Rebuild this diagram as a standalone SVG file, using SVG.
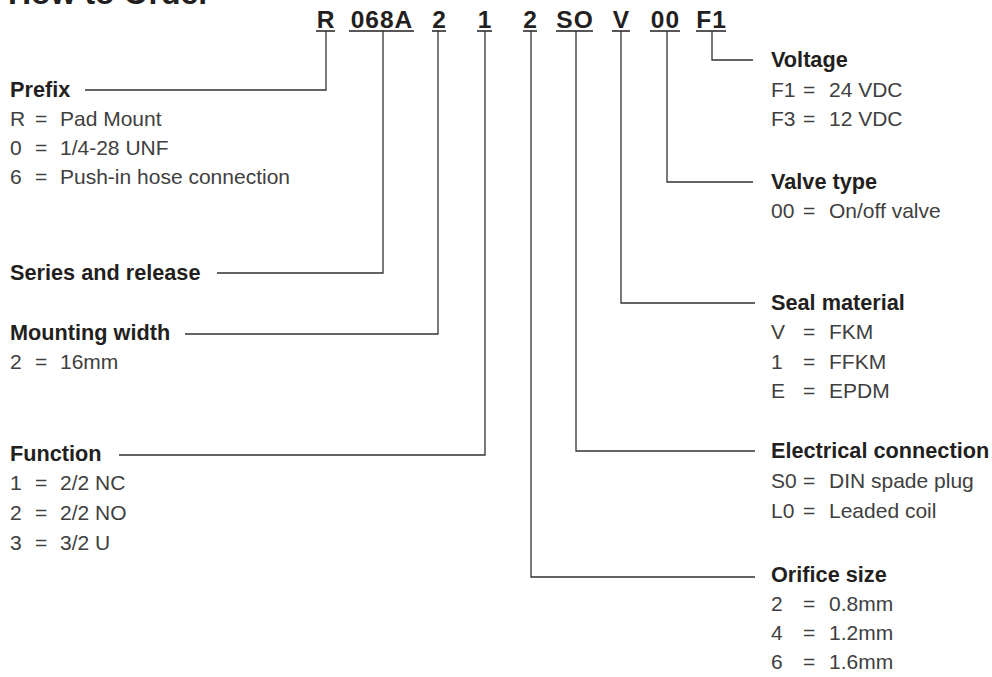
<svg xmlns="http://www.w3.org/2000/svg" width="992" height="677" viewBox="0 0 992 677">
<style>
.t{font-family:"Liberation Sans",Arial,sans-serif;font-weight:bold;font-size:32px;fill:#231f20}
.c{font-family:"Liberation Sans",Arial,sans-serif;font-weight:bold;font-size:24.5px;fill:#231f20;letter-spacing:1px}
.h{font-family:"Liberation Sans",Arial,sans-serif;font-weight:bold;font-size:21.7px;fill:#231f20}
.r{font-family:"Liberation Sans",Arial,sans-serif;font-size:21px;fill:#404040}
.u{stroke:#231f20;stroke-width:1.6;fill:none}
.k{stroke:#333;stroke-width:1.3;fill:none}
</style>
<rect width="992" height="677" fill="#fff"/>
<g id="title"><text class="t" x="8" y="4">How to Order</text></g>
<g id="code">
<text class="c" x="326" y="28" text-anchor="middle">R</text>
<text class="c" x="382" y="28" text-anchor="middle">068A</text>
<text class="c" x="439.5" y="28" text-anchor="middle">2</text>
<text class="c" x="485" y="28" text-anchor="middle">1</text>
<text class="c" x="530.5" y="28" text-anchor="middle">2</text>
<text class="c" x="575" y="28" text-anchor="middle">SO</text>
<text class="c" x="621.5" y="28" text-anchor="middle">V</text>
<text class="c" x="665.5" y="28" text-anchor="middle">00</text>
<text class="c" x="711.5" y="28" text-anchor="middle">F1</text>
<path class="u" d="M316,31H335M349,31H414M432,31H446M477,31H492M523,31H537M556,31H593M612,31H630M650,31H680M696,31H726"/>
</g>
<g id="connectors">
<path class="k" d="M326,31V90H85"/>
<path class="k" d="M383,31V273H217"/>
<path class="k" d="M438,31V334H185"/>
<path class="k" d="M485,31V455H119"/>
<path class="k" d="M531,31V577H755"/>
<path class="k" d="M576,31V451H755"/>
<path class="k" d="M621,31V303H755"/>
<path class="k" d="M667,31V182H753"/>
<path class="k" d="M712,31V60H753"/>
</g>
<g id="prefix">
<text class="h" x="10" y="97">Prefix</text>
<text class="r" x="10" y="126">R</text><text class="r" x="35" y="126">=</text><text class="r" x="60" y="126">Pad Mount</text>
<text class="r" x="10" y="155">0</text><text class="r" x="35" y="155">=</text><text class="r" x="60" y="155">1/4-28 UNF</text>
<text class="r" x="10" y="184">6</text><text class="r" x="35" y="184">=</text><text class="r" x="60" y="184">Push-in hose connection</text>
</g>
<g id="series"><text class="h" x="10" y="280">Series and release</text></g>
<g id="mounting">
<text class="h" x="10" y="340">Mounting width</text>
<text class="r" x="10" y="369">2</text><text class="r" x="35" y="369">=</text><text class="r" x="60" y="369">16mm</text>
</g>
<g id="function">
<text class="h" x="10" y="461">Function</text>
<text class="r" x="10" y="490">1</text><text class="r" x="35" y="490">=</text><text class="r" x="60" y="490">2/2 NC</text>
<text class="r" x="10" y="520">2</text><text class="r" x="35" y="520">=</text><text class="r" x="60" y="520">2/2 NO</text>
<text class="r" x="10" y="550">3</text><text class="r" x="35" y="550">=</text><text class="r" x="60" y="550">3/2 U</text>
</g>
<g id="voltage">
<text class="h" x="771" y="67">Voltage</text>
<text class="r" x="771" y="97">F1</text><text class="r" x="803" y="97">=</text><text class="r" x="829" y="97">24 VDC</text>
<text class="r" x="771" y="126">F3</text><text class="r" x="803" y="126">=</text><text class="r" x="829" y="126">12 VDC</text>
</g>
<g id="valve">
<text class="h" x="771" y="189">Valve type</text>
<text class="r" x="771" y="218">00</text><text class="r" x="803" y="218">=</text><text class="r" x="829" y="218">On/off valve</text>
</g>
<g id="seal">
<text class="h" x="771" y="310">Seal material</text>
<text class="r" x="771" y="339">V</text><text class="r" x="803" y="339">=</text><text class="r" x="829" y="339">FKM</text>
<text class="r" x="771" y="369">1</text><text class="r" x="803" y="369">=</text><text class="r" x="829" y="369">FFKM</text>
<text class="r" x="771" y="398">E</text><text class="r" x="803" y="398">=</text><text class="r" x="829" y="398">EPDM</text>
</g>
<g id="electrical">
<text class="h" x="771" y="458">Electrical connection</text>
<text class="r" x="771" y="488">S0</text><text class="r" x="803" y="488">=</text><text class="r" x="829" y="488">DIN spade plug</text>
<text class="r" x="771" y="518">L0</text><text class="r" x="803" y="518">=</text><text class="r" x="829" y="518">Leaded coil</text>
</g>
<g id="orifice">
<text class="h" x="771" y="582">Orifice size</text>
<text class="r" x="771" y="611">2</text><text class="r" x="803" y="611">=</text><text class="r" x="829" y="611">0.8mm</text>
<text class="r" x="771" y="640">4</text><text class="r" x="803" y="640">=</text><text class="r" x="829" y="640">1.2mm</text>
<text class="r" x="771" y="669">6</text><text class="r" x="803" y="669">=</text><text class="r" x="829" y="669">1.6mm</text>
</g>
</svg>
